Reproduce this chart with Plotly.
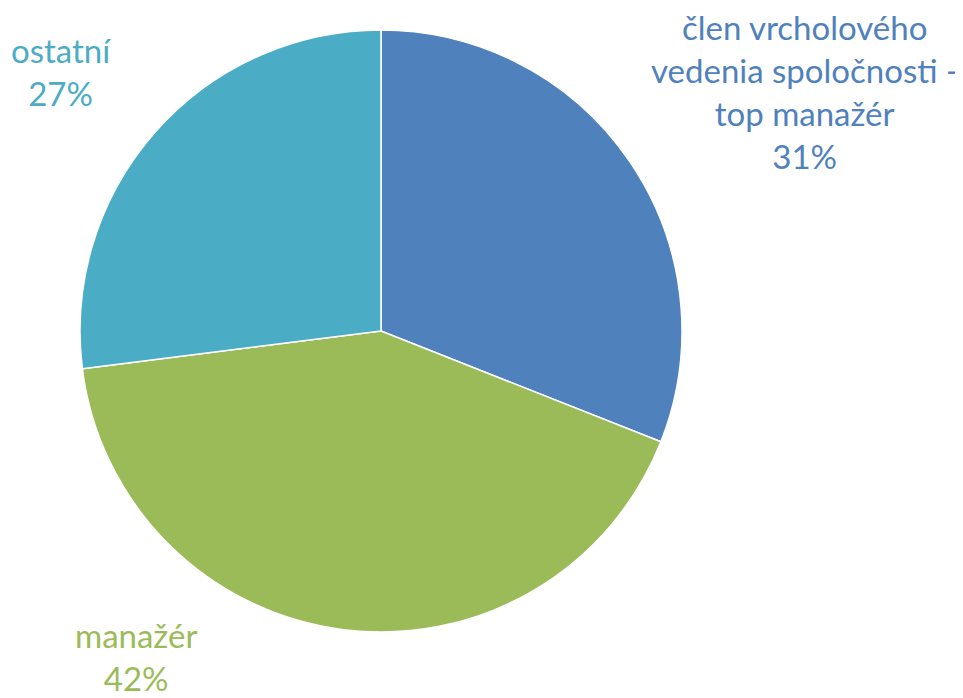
import plotly.graph_objects as go

categories = ["člen vrcholového vedenia spoločnosti - top manažér", "manažér", "ostatní"]
label_lines = ["člen vrcholového<br>vedenia spoločnosti -<br>top manažér", "manažér", "ostatní"]
values = [31, 42, 27]
colors = ["#4F81BD", "#9BBB59", "#4BACC6"]

W, H = 963, 698
OFF = 8  # page body margin offset
cx, cy, r = 381 - OFF, 331 - OFF, 301

fig = go.Figure(go.Pie(
    labels=categories,
    values=values,
    sort=False,
    direction="clockwise",
    rotation=0,
    marker=dict(colors=colors, line=dict(color="white", width=1.5)),
    textinfo="none",
    hoverinfo="label+percent",
    domain=dict(x=[(cx - r) / W, (cx + r) / W], y=[1 - (cy + r) / H, 1 - (cy - r) / H]),
    showlegend=False,
))

label_pos = [(804, 92), (136, 656), (61, 71)]
total = sum(values)
for i, (px, py) in enumerate(label_pos):
    pct = round(values[i] / total * 100)
    fig.add_annotation(
        x=(px - OFF) / W, y=1 - (py - OFF) / H, xref="paper", yref="paper",
        text=f"{label_lines[i]}<br>{pct}%",
        showarrow=False, xanchor="center", yanchor="middle", align="center",
        font=dict(family="Lato", size=33, color=colors[i]),
    )

fig.update_layout(
    width=W, height=H,
    margin=dict(l=0, r=0, t=0, b=0),
    paper_bgcolor="white", plot_bgcolor="white",
)
fig.write_html("out.html")
